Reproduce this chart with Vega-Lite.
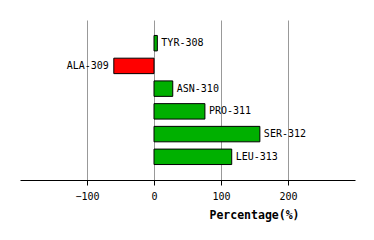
{
  "$schema": "https://vega.github.io/schema/vega-lite/v6.json",
  "width": 335,
  "height": 160,
  "autosize": {"type": "none"},
  "padding": {"left": 20, "top": 20, "right": 19, "bottom": 60},
  "background": "white",
  "config": {"view": {"stroke": null}, "font": "DejaVu Sans Mono"},
  "data": {"values": [
    {"name": "TYR-308", "v": 5},
    {"name": "ALA-309", "v": -60},
    {"name": "ASN-310", "v": 28},
    {"name": "PRO-311", "v": 76},
    {"name": "SER-312", "v": 158},
    {"name": "LEU-313", "v": 116}
  ]},
  "encoding": {
    "y": {"field": "name", "type": "nominal", "sort": null, "axis": null,
          "scale": {"paddingInner": 0.32, "paddingOuter": 0.68}},
    "x": {"field": "v", "type": "quantitative",
          "scale": {"domain": [-200, 300], "nice": false, "zero": false},
          "axis": {"values": [-100, 0, 100, 200], "grid": true, "gridColor": "#999999", "gridWidth": 1, "gridOpacity": 1,
                   "domainColor": "#000000", "domainWidth": 1, "tickColor": "#000000", "tickSize": 5, "tickWidth": 1,
                   "labelFont": "DejaVu Sans Mono", "labelFontSize": 10, "labelColor": "#000000", "labelPadding": 6,
                   "title": "Percentage(%)", "titleFont": "DejaVu Sans Mono", "titleFontSize": 11.5, "titleFontWeight": "bold",
                   "titleColor": "#000000", "titleX": 234, "titleY": 38, "titleAlign": "center", "titleBaseline": "alphabetic"}}
  },
  "layer": [
    {"mark": {"type": "bar", "stroke": "#000000", "strokeWidth": 1},
     "encoding": {"color": {"condition": {"test": "datum.v < 0", "value": "#ff0000"}, "value": "#00b000"}}},
    {"transform": [{"filter": "datum.v >= 0"}],
     "mark": {"type": "text", "align": "left", "baseline": "middle", "dx": 4, "fontSize": 10, "font": "DejaVu Sans Mono", "color": "#000000"},
     "encoding": {"text": {"field": "name"}}},
    {"transform": [{"filter": "datum.v < 0"}],
     "mark": {"type": "text", "align": "right", "baseline": "middle", "dx": -5, "fontSize": 10, "font": "DejaVu Sans Mono", "color": "#000000"},
     "encoding": {"text": {"field": "name"}}}
  ]
}
